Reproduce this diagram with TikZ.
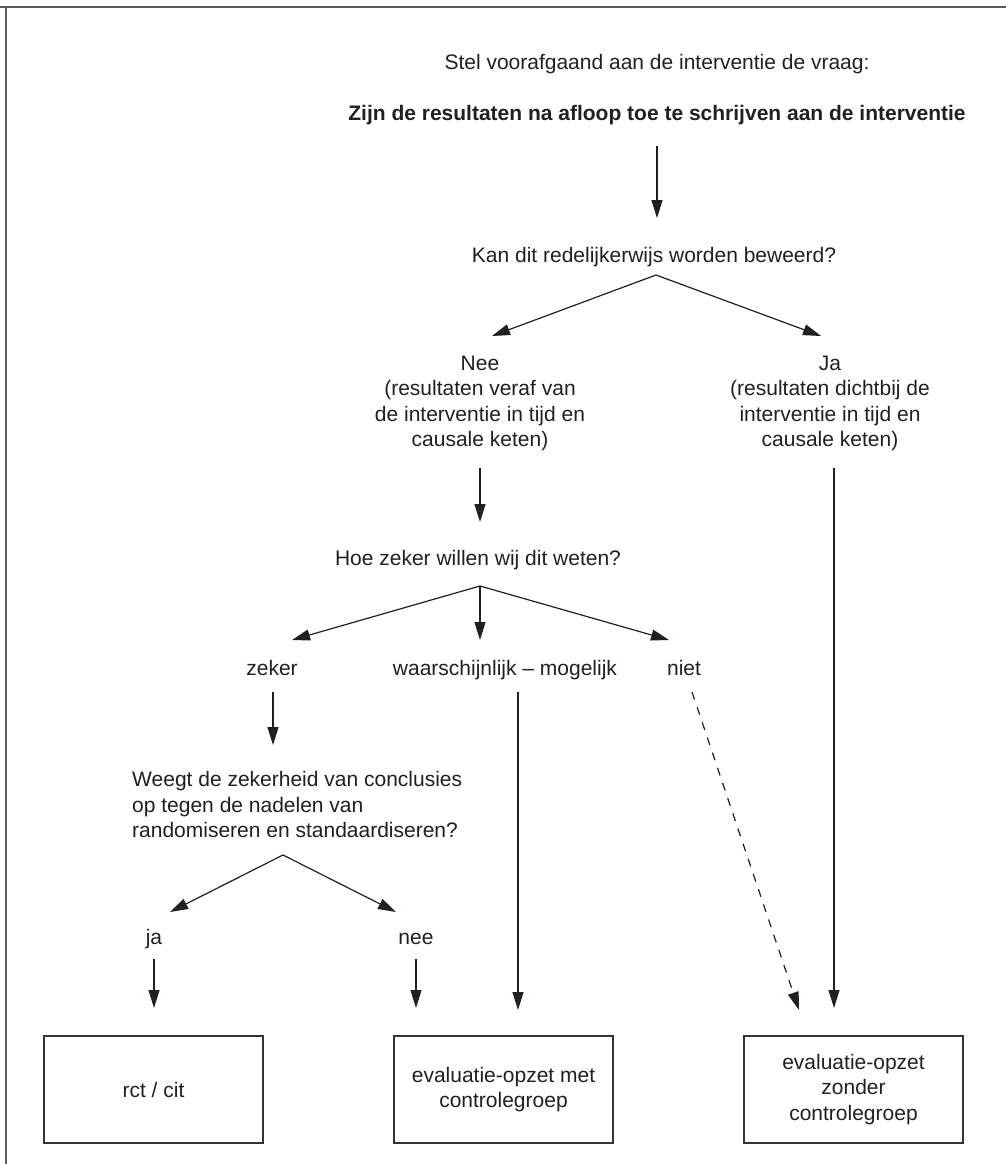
\documentclass[tikz,border=0pt]{standalone}
\usepackage{fontspec}
\setmainfont{Liberation Sans}
\usetikzlibrary{arrows.meta}
\definecolor{ink}{HTML}{231F20}
\definecolor{framec}{HTML}{5A5A5A}
\definecolor{boxc}{HTML}{333333}
\tikzset{
  txt/.style={font=\fontsize{21}{25.5}\selectfont, inner sep=0pt, text=ink},
  ml/.style={txt, align=center},
  arr/.style={draw=ink, line width=1.2pt, -{Triangle[length=18pt,width=11pt]}},
  plain/.style={draw=ink, line width=1.2pt},
  dasharr/.style={arr, dash pattern=on 8pt off 8pt},
  outcome/.style={txt, draw=boxc, line width=1.6pt, minimum width=219pt, minimum height=107pt, align=center},
  framel/.style={draw=framec, line width=2pt}
}
\begin{document}
\begin{tikzpicture}[x=1pt,y=-1pt]
\useasboundingbox (0,0) rectangle (1006,1164);
% frame (top and left)
\draw[framel] (0,7) -- (1006,7);
\draw[framel] (6,7) -- (6,1164);

% texts
\node[txt, anchor=base] (stel) at (657,70) {Stel voorafgaand aan de interventie de vraag:};
\node[txt, anchor=base, font=\fontsize{21}{25.5}\selectfont\bfseries] (zijn) at (657,120) {Zijn de resultaten na afloop toe te schrijven aan de interventie};
\node[txt, anchor=base] (kan) at (654,262) {Kan dit redelijkerwijs worden beweerd?};
\node[ml] (nee) at (480,403.5) {Nee\\(resultaten veraf van\\de interventie in tijd en\\causale keten)};
\node[ml] (ja) at (830,403.5) {Ja\\(resultaten dichtbij de\\interventie in tijd en\\causale keten)};
\node[txt, anchor=base] (hoe) at (478,565) {Hoe zeker willen wij dit weten?};
\node[txt, anchor=base] (zeker) at (272,675) {zeker};
\node[txt, anchor=base] (waar) at (505,675) {waarschijnlijk -- mogelijk};
\node[txt, anchor=base] (niet) at (684,675) {niet};
\node[txt, align=left, anchor=west] (weegt) at (132,804.5) {Weegt de zekerheid van conclusies\\op tegen de nadelen van\\randomiseren en standaardiseren?};
\node[txt, anchor=base] (jaw) at (154,944) {ja};
\node[txt, anchor=base] (neew) at (416,944) {nee};

% outcome boxes
\node[outcome] (rct) at (153.5,1089.5) {rct / cit};
\node[outcome] (met) at (503.5,1089.5) {evaluatie-opzet met\\controlegroep};
\node[outcome] (zonder) at (853.5,1089.5) {evaluatie-opzet\\zonder\\controlegroep};

% connector points
\coordinate (zijnS) at (657,146);
\coordinate (kanN) at (657,218);
\coordinate (kanS) at (656,275);
\coordinate (neeN) at (492,336);
\coordinate (jaN) at (821,336);
\coordinate (neeS) at (480,468);
\coordinate (hoeN) at (480,522);
\coordinate (jaS) at (834,468);
\coordinate (zonderN2) at (834,1008);
\coordinate (hoeS) at (480,586);
\coordinate (zekerN) at (292,640);
\coordinate (waarN) at (480,640);
\coordinate (nietN) at (669,640);
\coordinate (zekerS) at (273,692);
\coordinate (weegtN) at (273,745);
\coordinate (waarS) at (518,692);
\coordinate (metN2) at (518,1010);
\coordinate (nietS) at (692,692);
\coordinate (zonderN1) at (799,1010);
\coordinate (weegtS) at (283,855);
\coordinate (jawN) at (170,912);
\coordinate (neewN) at (396,912);
\coordinate (jawS) at (154,959);
\coordinate (rctN) at (154,1008);
\coordinate (neewS) at (416,959);
\coordinate (metN1) at (416,1008);

% connectors
\draw[arr] (zijnS) -- (kanN);
\draw[arr] (kanS) -- (neeN);
\draw[arr] (kanS) -- (jaN);
\draw[arr] (neeS) -- (hoeN);
\draw[arr] (jaS) -- (zonderN2);
\draw[arr] (hoeS) -- (zekerN);
\draw[arr] (hoeS) -- (waarN);
\draw[arr] (hoeS) -- (nietN);
\draw[arr] (zekerS) -- (weegtN);
\draw[arr] (waarS) -- (metN2);
\draw[dasharr] (nietS) -- (zonderN1);
\draw[arr] (weegtS) -- (jawN);
\draw[arr] (weegtS) -- (neewN);
\draw[arr] (jawS) -- (rctN);
\draw[arr] (neewS) -- (metN1);
\end{tikzpicture}
\end{document}
